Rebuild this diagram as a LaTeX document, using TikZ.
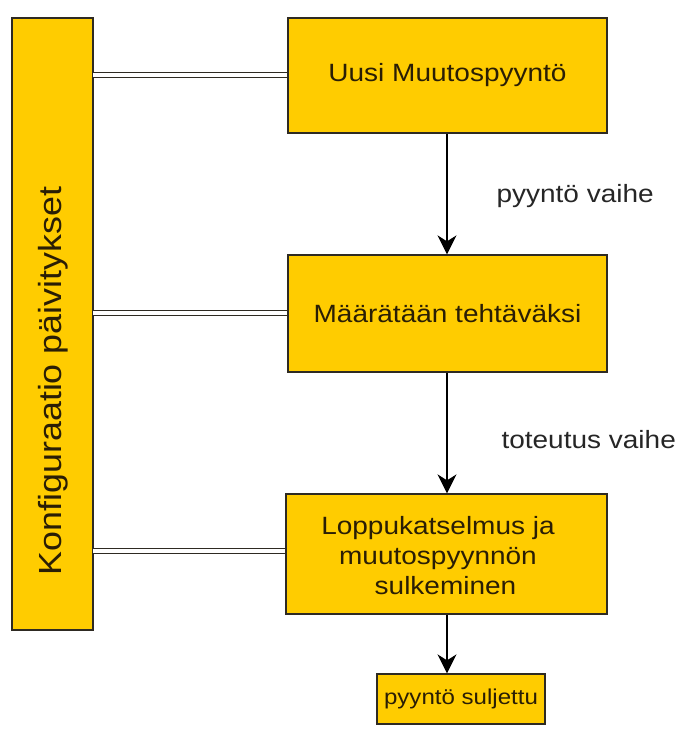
\documentclass[tikz,border=0pt]{standalone}
\usepackage{fontspec}
\setmainfont{Liberation Sans}[FakeStretch=1.12]
\usetikzlibrary{arrows.meta}
\definecolor{boxfill}{HTML}{FFCC00}
\definecolor{boxline}{HTML}{2E2A22}
\definecolor{txt}{HTML}{2A1E05}
\begin{document}
\begin{tikzpicture}[x=1pt,y=-1pt,
  yb/.style={draw=boxline,line width=1.3pt,fill=boxfill},
  dbl/.style={draw=boxline,double=white,double distance=4.5pt,line width=1.1pt},
  arr/.style={draw=black,line width=1.3pt,-{Stealth[length=19pt,width=19pt,inset=6pt]}},
  btxt/.style={text=txt,font=\fontsize{25}{30}\selectfont,align=center},
  ltxt/.style={text=black!85,font=\fontsize{25}{28}\selectfont}]
\useasboundingbox (0,0) rectangle (683,729);
% left box
\draw[yb] (12,18) rectangle (93,630);
\node[btxt,rotate=90,font=\fontsize{32}{36}\selectfont] (konf) at (53,381) {Konfiguraatio päivitykset};
\coordinate (L1) at (93,75);
\coordinate (L2) at (93,313);
\coordinate (L3) at (93,551);
% boxes
\node[yb,minimum width=319pt,minimum height=115pt,inner sep=0pt] (b1) at (447.5,75.5) {};
\node[btxt] at (b1.center) {Uusi Muutospyyntö};
\node[yb,minimum width=319pt,minimum height=117pt,inner sep=0pt] (b2) at (447.5,313.5) {};
\node[btxt] at (b2.center) {Määrätään tehtäväksi};
\node[yb,minimum width=321pt,minimum height=120pt,inner sep=0pt] (b3) at (446.5,554) {};
\node[btxt] at (438,556) {Loppukatselmus ja\\muutospyynnön\\\hspace*{0.6em}sulkeminen};
\node[yb,minimum width=168pt,minimum height=50pt,inner sep=0pt] (b4) at (461,699) {};
\node[btxt,font=\fontsize{21.5}{24}\selectfont] at (b4.center) {pyyntö suljettu};
% connectors
\draw[dbl] (L1) -- (b1.west |- L1);
\draw[dbl] (L2) -- (b2.west |- L2);
\draw[dbl] (L3) -- (b3.west |- L3);
\draw[arr] (b1.south -| 447,0) -- (b2.north -| 447,0);
\draw[arr] (b2.south -| 447,0) -- (b3.north -| 447,0);
\draw[arr] (b3.south -| 447,0) -- (b4.north -| 447,0);
\node[ltxt,anchor=west] (l1) at (493,196) {pyyntö vaihe};
\node[ltxt,anchor=west] (l2) at (498,440) {toteutus vaihe};
\end{tikzpicture}
\end{document}
